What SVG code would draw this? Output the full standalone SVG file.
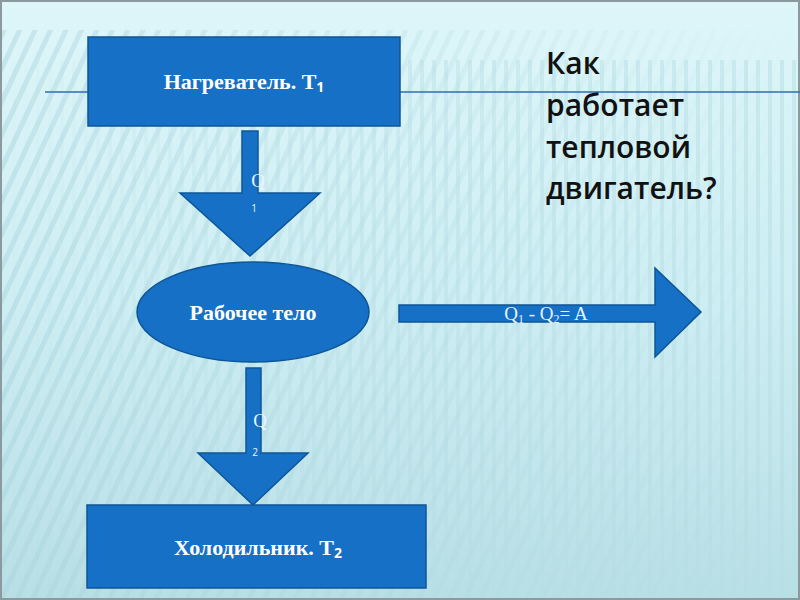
<svg xmlns="http://www.w3.org/2000/svg" width="800" height="600" viewBox="0 0 800 600">
<style>
.shape{fill:#1570c6;stroke:#0e5598;stroke-width:1.5}
.lbl{font-family:"Liberation Serif",serif;font-weight:bold;fill:#ffffff;text-anchor:middle}
.q{font-family:"Liberation Serif",serif;fill:#e8f4ff;text-anchor:middle}
.qs{font-family:"Open Sans",sans-serif;fill:#e8f4ff;text-anchor:middle}
.title{font-family:"Open Sans","DejaVu Sans",sans-serif;font-weight:600;font-size:30px;fill:#111}
</style>
<defs>
<linearGradient id="bg" x1="0" y1="0" x2="0" y2="1">
<stop offset="0" stop-color="#def6f9"/>
<stop offset="0.5" stop-color="#cdeef3"/>
<stop offset="1" stop-color="#b8dfe5"/>
</linearGradient>
<pattern id="diag" width="14" height="14" patternUnits="userSpaceOnUse" patternTransform="rotate(25)">
<rect width="5" height="14" fill="#a8d4dc" opacity="0.45"/>
</pattern>
<pattern id="vert" width="12" height="12" patternUnits="userSpaceOnUse">
<rect width="4" height="12" fill="#b5dde4" opacity="0.5"/>
</pattern>
<linearGradient id="fadeL" x1="0" y1="0" x2="1" y2="0">
<stop offset="0" stop-color="#fff" stop-opacity="1"/>
<stop offset="1" stop-color="#fff" stop-opacity="0"/>
</linearGradient>
<mask id="mL"><rect x="0" y="0" width="800" height="600" fill="url(#fadeL)"/></mask>
<linearGradient id="fadeR" x1="0" y1="0" x2="1" y2="0">
<stop offset="0" stop-color="#fff" stop-opacity="0"/>
<stop offset="0.45" stop-color="#fff" stop-opacity="0.8"/>
<stop offset="1" stop-color="#fff" stop-opacity="1"/>
</linearGradient>
<mask id="mR"><rect x="0" y="0" width="800" height="600" fill="url(#fadeR)"/></mask>
</defs>
<g id="background">
<rect x="0" y="0" width="800" height="600" fill="url(#bg)"/>
<rect x="0" y="30" width="800" height="570" fill="url(#diag)" mask="url(#mL)"/>
<rect x="0" y="60" width="800" height="540" fill="url(#vert)" mask="url(#mR)"/>
<rect x="1" y="1" width="798" height="598" fill="none" stroke="#8a9a9e" stroke-width="2"/>
<line x1="45" y1="92" x2="800" y2="92" stroke="#2f6fae" stroke-width="1.5"/>
</g>
<g id="connectors">
<g id="arrow-q1">
<polygon class="shape" points="242,131 258,131 258,193 320,193 250,256 180,193 242,193"/>
<text class="q" x="258" y="187" font-size="19">Q</text>
<text class="qs" x="254" y="212" font-size="10">1</text>
</g>
<g id="arrow-q2">
<polygon class="shape" points="246,368 261,368 261,453 308,453 253,505 198,453 246,453"/>
<text class="q" x="260" y="427" font-size="19">Q</text>
<text class="qs" x="255" y="456" font-size="10">2</text>
</g>
<g id="arrow-work">
<polygon class="shape" points="399,305 655,305 655,268 701,312 655,357 655,322 399,322"/>
<text class="q" x="546" y="320" font-size="19">Q<tspan font-size="12" dy="3">1</tspan><tspan dy="-3"> - Q</tspan><tspan font-size="12" dy="3">2</tspan><tspan dy="-3">= A</tspan></text>
</g>
</g>
<g id="heater">
<rect class="shape" x="88" y="37" width="312" height="89"/>
<text class="lbl" x="244" y="89" font-size="22">Нагреватель. Т<tspan font-family="Open Sans,sans-serif" font-size="14" dy="3">1</tspan></text>
</g>
<g id="working-body">
<ellipse class="shape" cx="253" cy="312" rx="116" ry="50"/>
<text class="lbl" x="253" y="320" font-size="22">Рабочее тело</text>
</g>
<g id="cooler">
<rect class="shape" x="87" y="505" width="339" height="83"/>
<text class="lbl" x="258" y="555" font-size="22">Холодильник. Т<tspan font-family="Open Sans,sans-serif" font-size="14" dy="3">2</tspan></text>
</g>
<g id="title">
<text class="title" x="546" y="74">Как</text>
<text class="title" x="546" y="116">работает</text>
<text class="title" x="546" y="158">тепловой</text>
<text class="title" x="546" y="199">двигатель?</text>
</g>
</svg>
